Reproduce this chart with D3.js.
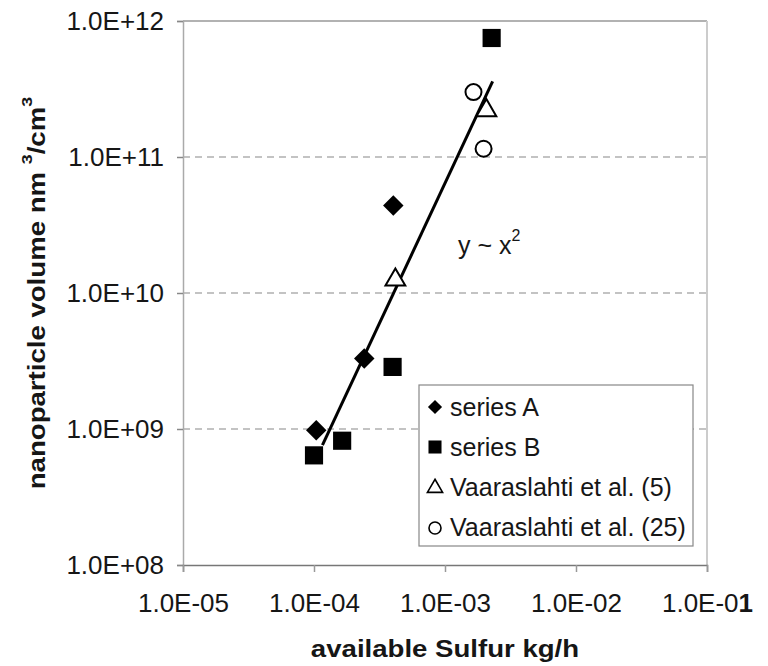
<!DOCTYPE html>
<html>
<head>
<meta charset="utf-8">
<script src="https://cdn.jsdelivr.net/npm/d3@7"></script>
<style>
  body { margin: 0; background: #fff; }
  text { font-family: "Liberation Sans", Arial, sans-serif; fill: #161616; }
</style>
</head>
<body>
<svg></svg>
<script>
var width = 768,
    height = 666;

var svg = d3.select("svg")
    .attr("width", width)
    .attr("height", height);

// Values (kg/h, nm^3/cm^3).
var seriesAX = [1.04e-4, 2.42e-4, 4.03e-4];
var seriesAY = [9.8e8, 3.3e9, 4.4e10];

var seriesBX = [1.0e-4, 1.64e-4, 3.98e-4, 2.27e-3];
var seriesBY = [6.4e8, 8.2e8, 2.86e9, 7.5e11];

var vaara5X = [4.18e-4, 2.07e-3];
var vaara5Y = [1.25e10, 2.2e11];

var vaara25X = [1.65e-3, 1.97e-3];
var vaara25Y = [3.0e11, 1.15e11];

// y ~ x^2 trend, drawn between these two ends.
var trendX = [1.16e-4, 2.31e-3];
var trendY = [7.6e8, 3.6e11];

var xTicks = [1e-5, 1e-4, 1e-3, 1e-2, 1e-1];
var xTickLabels = ["1.0E-05", "1.0E-04", "1.0E-03", "1.0E-02", "1.0E-01"];
var yTicks = [1e8, 1e9, 1e10, 1e11, 1e12];
var yTickLabels = ["1.0E+08", "1.0E+09", "1.0E+10", "1.0E+11", "1.0E+12"];

var legendNames = ["series A", "series B", "Vaaraslahti et al. (5)", "Vaaraslahti et al. (25)"];

var plotLeft = 183, plotRight = 707, plotTop = 21, plotBottom = 565;

var x = d3.scaleLog().domain([1e-5, 1e-1]).range([plotLeft, plotRight]);
var y = d3.scaleLog().domain([1e8, 1e12]).range([plotBottom, plotTop]);

// dashed grid lines
svg.append("g")
  .selectAll("line")
    .data(yTicks.slice(1, 4))
  .enter().append("line")
    .attr("x1", plotLeft).attr("x2", plotRight)
    .attr("y1", function(d) { return y(d); })
    .attr("y2", function(d) { return y(d); })
    .attr("stroke", "#888")
    .attr("stroke-width", 1.2)
    .attr("stroke-dasharray", "7,5");

// frame top and right
svg.append("line")
    .attr("x1", plotLeft).attr("x2", plotRight).attr("y1", plotTop).attr("y2", plotTop)
    .attr("stroke", "#999").attr("stroke-width", 1.5);
svg.append("line")
    .attr("x1", plotRight).attr("x2", plotRight).attr("y1", plotTop).attr("y2", plotBottom)
    .attr("stroke", "#ccc").attr("stroke-width", 2);

// y axis
var yAxis = svg.append("g")
    .attr("transform", "translate(" + plotLeft + ",0)")
    .call(d3.axisLeft(y)
      .tickValues(yTicks)
      .tickSize(6)
      .tickPadding(13)
      .tickFormat(function(d, i) { return yTickLabels[i]; }));
yAxis.select(".domain").attr("stroke", "#aaa").attr("stroke-width", 1.5);
yAxis.selectAll(".tick line").attr("stroke", "#888").attr("stroke-width", 1.5);
yAxis.selectAll(".tick text")
    .style("font-size", "26px")
    .style("font-family", "'Liberation Sans', Arial, sans-serif")
    .attr("fill", "#161616");

// x axis
var xAxis = svg.append("g")
    .attr("transform", "translate(0," + plotBottom + ")")
    .call(d3.axisBottom(x)
      .tickValues(xTicks)
      .tickSize(7)
      .tickFormat(function(d, i) { return xTickLabels[i]; }));
xAxis.select(".domain").attr("stroke", "#777").attr("stroke-width", 1.5);
xAxis.selectAll(".tick line").attr("stroke", "#999").attr("stroke-width", 1.5);
xAxis.selectAll(".tick text")
    .attr("y", 47).attr("dy", 0)
    .style("font-size", "26px")
    .style("font-family", "'Liberation Sans', Arial, sans-serif")
    .attr("fill", "#161616");

// the last label ends in a bold "1" in the original
xAxis.selectAll(".tick text").filter(function(d, i) { return i === xTicks.length - 1; })
    .text(null)
    .call(function(t) {
      var s = xTickLabels[xTickLabels.length - 1];
      t.append("tspan").text(s.slice(0, -1));
      t.append("tspan").attr("font-weight", "bold").text(s.slice(-1));
    });

// axis titles
svg.append("text")
    .attr("transform", "translate(445,657) scale(1.2,1)")
    .attr("text-anchor", "middle")
    .attr("font-weight", "bold")
    .attr("font-size", 23)
    .text("available Sulfur kg/h");

var yTitle = svg.append("text")
    .attr("transform", "translate(45,293) rotate(-90) scale(1.2,1)")
    .attr("text-anchor", "middle")
    .attr("font-weight", "bold")
    .attr("font-size", 23);
yTitle.append("tspan").text("nanoparticle volume nm ");
yTitle.append("tspan").attr("font-size", 15).attr("dy", -13).text("3");
yTitle.append("tspan").attr("dy", 13).text("/cm");
yTitle.append("tspan").attr("font-size", 15).attr("dy", -13).text("3");

// trend line
svg.append("path")
    .datum(d3.zip(trendX, trendY))
    .attr("d", d3.line()
      .x(function(d) { return x(d[0]); })
      .y(function(d) { return y(d[1]); }))
    .attr("fill", "none")
    .attr("stroke", "#000")
    .attr("stroke-width", 3);

var trendLabel = svg.append("text")
    .attr("x", 458).attr("y", 254)
    .attr("font-size", 25);
trendLabel.append("tspan").text("y ~ x");
trendLabel.append("tspan").attr("font-size", 16).attr("dy", -13).text("2");

// markers
var diamond = d3.symbol().type(d3.symbolSquare);
var square = d3.symbol().type(d3.symbolSquare);
var triangle = d3.symbol().type(d3.symbolTriangle);

function pos(d) { return "translate(" + x(d[0]) + "," + y(d[1]) + ")"; }

svg.append("g")
  .selectAll("path")
    .data(d3.zip(seriesAX, seriesAY))
  .enter().append("path")
    .attr("d", diamond.size(210))
    .attr("transform", function(d) { return pos(d) + " rotate(45)"; })
    .attr("fill", "#000");

svg.append("g")
  .selectAll("path")
    .data(d3.zip(seriesBX, seriesBY))
  .enter().append("path")
    .attr("d", square.size(330))
    .attr("transform", pos)
    .attr("fill", "#000");

svg.append("g")
  .selectAll("path")
    .data(d3.zip(vaara5X, vaara5Y))
  .enter().append("path")
    .attr("d", triangle.size(170))
    .attr("transform", pos)
    .attr("fill", "#fff")
    .attr("stroke", "#000")
    .attr("stroke-width", 2);

svg.append("g")
  .selectAll("circle")
    .data(d3.zip(vaara25X, vaara25Y))
  .enter().append("circle")
    .attr("cx", function(d) { return x(d[0]); })
    .attr("cy", function(d) { return y(d[1]); })
    .attr("r", 8)
    .attr("fill", "#fff")
    .attr("stroke", "#000")
    .attr("stroke-width", 2);

// legend
var legend = svg.append("g");
legend.append("rect")
    .attr("x", 419).attr("y", 385)
    .attr("width", 274).attr("height", 161)
    .attr("fill", "#fff")
    .attr("stroke", "#888")
    .attr("stroke-width", 1.2);

var legendY = d3.scalePoint().domain(legendNames).range([407, 527]);

legendNames.forEach(function(name, i) {
  var cy = legendY(name);
  var g = legend.append("g").attr("transform", "translate(435," + cy + ")");
  if (i === 0) g.append("path").attr("d", diamond.size(100)).attr("transform", "rotate(45)").attr("fill", "#000");
  if (i === 1) g.append("path").attr("d", square.size(170)).attr("fill", "#000");
  if (i === 2) g.append("path").attr("d", triangle.size(100)).attr("transform", "translate(0,1)")
      .attr("fill", "#fff").attr("stroke", "#000").attr("stroke-width", 1.6);
  if (i === 3) g.append("circle").attr("r", 6).attr("cy", 1)
      .attr("fill", "#fff").attr("stroke", "#000").attr("stroke-width", 1.6);
  legend.append("text")
      .attr("x", 450).attr("y", cy).attr("dy", "0.36em")
      .attr("font-size", 25)
      .text(name);
});
</script>
</body>
</html>
